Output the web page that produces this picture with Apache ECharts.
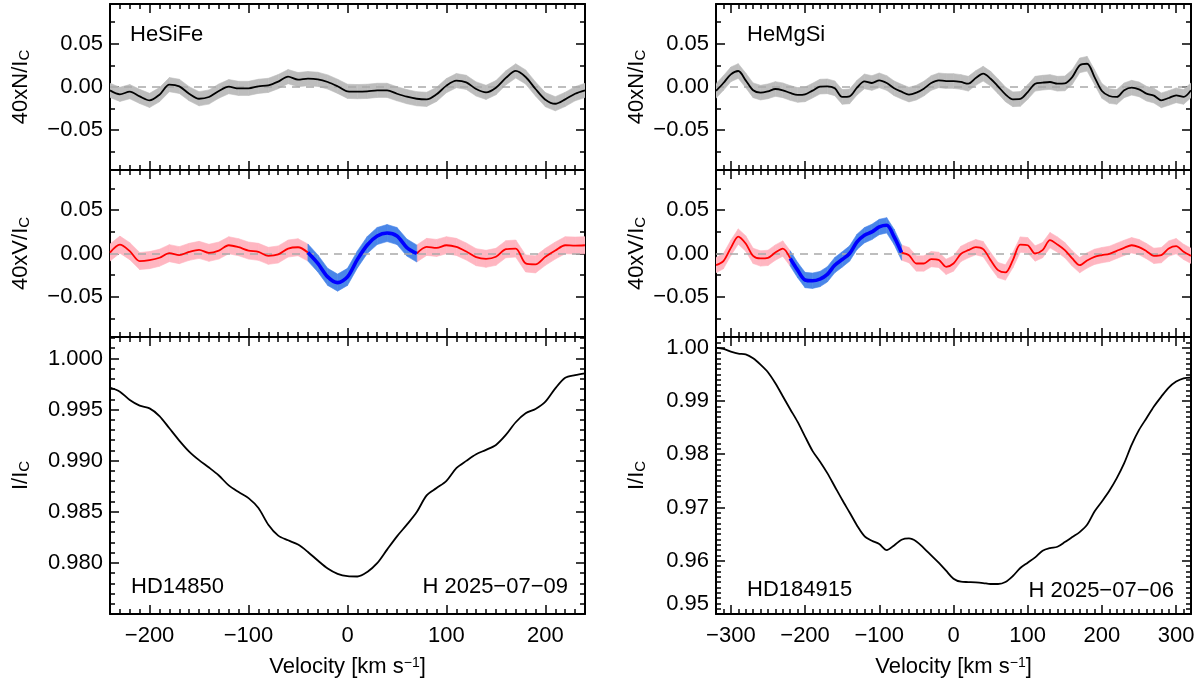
<!DOCTYPE html>
<html>
<head>
<meta charset="utf-8">
<script src="https://cdn.jsdelivr.net/npm/echarts@6/dist/echarts.min.js"></script>
<style>
html, body { margin: 0; padding: 0; background: #fff; }
#main { width: 1200px; height: 682px; }
</style>
</head>
<body>
<div id="main"></div>
<script>
var chart = echarts.init(document.getElementById('main'));

// velocity grids (km/s)
var velLeft = [-240, -230, -220, -210, -200, -190, -180, -170, -160, -150, -140, -130, -120, -110, -100, -90, -80, -70, -60, -50, -40, -30, -20, -10, 0,
    10, 20, 30, 40, 50, 60, 70, 80, 90, 100, 110, 120, 130, 140, 150, 160, 170, 180, 190, 200, 210, 220, 230, 240];
var velRight = [-320, -310, -300, -290, -280, -270, -260, -250, -240, -230, -220, -210, -200, -190, -180, -170, -160, -150, -140, -130, -120, -110, -100, -90, -80, -70, -60, -50, -40, -30, -20, -10, 0,
    10, 20, 30, 40, 50, 60, 70, 80, 90, 100, 110, 120, 130, 140, 150, 160, 170, 180, 190, 200, 210, 220, 230, 240, 250, 260, 270, 280, 290, 300, 310, 320];

// HD14850 (HeSiFe mask)
var nLeft = [-0.0039, -0.0085, -0.0054, -0.0109, -0.0155, -0.0089, 0.0027, 0.0008, -0.0078, -0.0136, -0.0116, -0.0047, 0.0004, -0.0016, -0.0016, 0.0008, 0.0019, 0.0062, 0.0120, 0.0085, 0.0097, 0.0089, 0.0058, 0.0008, -0.0050,
    -0.0054, -0.0050, -0.0039, -0.0039, -0.0078, -0.0112, -0.0136, -0.0143, -0.0085, 0.0016, 0.0074, 0.0054, -0.0023, -0.0062, -0.0008, 0.0105, 0.0186, 0.0116, -0.0023, -0.0147, -0.0194, -0.0143, -0.0078, -0.0039];
var vLeft = [0.0011, 0.0102, 0.0027, -0.0087, -0.0076, -0.0049, 0.0004, -0.0019, 0.0019, 0.0042, 0.0008, 0.0034, 0.0095, 0.0072, 0.0034, 0.0019, -0.0027, -0.0011, 0.0057, 0.0072, 0.0011, -0.0114, -0.0269, -0.0335, -0.0269,
    -0.0068, 0.0098, 0.0201, 0.0235, 0.0201, 0.0068, 0.0000, 0.0076, 0.0064, 0.0095, 0.0076, 0.0023, -0.0042, -0.0061, -0.0038, 0.0049, 0.0057, -0.0114, -0.0125, -0.0038, 0.0034, 0.0095, 0.0091, 0.0095];
var iLeft = [0.99714, 0.99675, 0.99593, 0.99538, 0.99512, 0.99437, 0.99317, 0.99197, 0.99089, 0.99005, 0.98933, 0.98855, 0.98758, 0.98693, 0.98634, 0.98537, 0.98374, 0.98267, 0.98221, 0.98179, 0.98107, 0.98023, 0.97945, 0.97893, 0.97870,
    0.97867, 0.97912, 0.97997, 0.98130, 0.98260, 0.98374, 0.98498, 0.98660, 0.98732, 0.98803, 0.98927, 0.98998, 0.99063, 0.99106, 0.99154, 0.99252, 0.99376, 0.99463, 0.99506, 0.99577, 0.99707, 0.99811, 0.99837, 0.99854];

// HD184915 (HeMgSi mask)
var nRight = [-0.0046, 0.0046, 0.0146, 0.0185, 0.0077, -0.0038, -0.0065, -0.0050, -0.0023, -0.0038, -0.0069, -0.0092, -0.0085, -0.0042, 0.0004, 0.0008, -0.0015, -0.0115, -0.0108, -0.0008, 0.0065, 0.0046, 0.0077, 0.0046, -0.0015, -0.0054, -0.0088, -0.0065, -0.0019, 0.0046, 0.0077, 0.0069, 0.0069,
    0.0058, 0.0038, 0.0104, 0.0154, 0.0096, 0.0008, -0.0085, -0.0142, -0.0138, -0.0058, 0.0038, 0.0050, 0.0058, 0.0038, 0.0042, 0.0115, 0.0250, 0.0269, 0.0115, -0.0046, -0.0104, -0.0115, -0.0038, -0.0008, -0.0027, -0.0077, -0.0100, -0.0154, -0.0127, -0.0096, -0.0115, -0.0038];
var vRight = [-0.0134, -0.0088, 0.0065, 0.0195, 0.0115, -0.0027, -0.0057, -0.0050, 0.0011, 0.0057, -0.0057, -0.0191, -0.0305, -0.0313, -0.0294, -0.0240, -0.0134, -0.0069, 0.0000, 0.0134, 0.0210, 0.0248, 0.0305, 0.0324, 0.0191, 0.0011, -0.0019, -0.0115, -0.0115, -0.0065, -0.0073, -0.0153, -0.0115,
    -0.0004, 0.0038, 0.0073, 0.0050, -0.0076, -0.0191, -0.0218, -0.0076, 0.0103, 0.0095, 0.0000, 0.0038, 0.0153, 0.0103, 0.0038, -0.0057, -0.0134, -0.0080, -0.0038, -0.0019, -0.0004, 0.0031, 0.0065, 0.0095, 0.0073, 0.0027, -0.0027, -0.0019, 0.0057, 0.0084, 0.0019, -0.0027];
var iRight = [1.00000, 0.99975, 0.99925, 0.99888, 0.99875, 0.99800, 0.99681, 0.99538, 0.99331, 0.99088, 0.98844, 0.98606, 0.98331, 0.98063, 0.97863, 0.97644, 0.97394, 0.97144, 0.96906, 0.96663, 0.96463, 0.96375, 0.96313, 0.96200, 0.96288, 0.96394, 0.96419, 0.96363, 0.96238, 0.96100, 0.95963, 0.95813, 0.95663,
    0.95606, 0.95600, 0.95594, 0.95581, 0.95563, 0.95563, 0.95600, 0.95713, 0.95863, 0.95963, 0.96063, 0.96188, 0.96238, 0.96263, 0.96350, 0.96444, 0.96538, 0.96675, 0.96925, 0.97113, 0.97313, 0.97550, 0.97831, 0.98175, 0.98456, 0.98675, 0.98894, 0.99081, 0.99250, 0.99363, 0.99425, 0.99438];

// error half-widths and the signal (blue) window
var errNLeft = 0.0082, errVLeft = 0.0098, errNRight = 0.0085, errVRight = 0.0088;
var blueLeft = [-40, 70];
var blueRight = [-220, -70];

var panelLabels = ['HeSiFe', 'HeMgSi'];
var starNames = ['HD14850', 'HD184915'];
var dateLabels = ['H 2025\u221207\u221209', 'H 2025\u221207\u221206'];

var FONT = '"Liberation Sans", Arial, sans-serif';
var MINUS = '\u2212';

function fmt(v, d) {
    var s = Math.abs(v).toFixed(d);
    return (v < -1e-9 && Number(s) !== 0 ? MINUS : '') + s;
}
function pairs(vel, vals) {
    return vel.map(function (v, i) { return [v, vals[i]]; });
}
// keep values inside (or outside) a velocity window, null elsewhere
function windowed(vel, vals, win, inside) {
    return vel.map(function (v, i) {
        var isIn = v >= win[0] && v <= win[1];
        var edge = v === win[0] || v === win[1];
        return (inside ? isIn : (!isIn || edge)) ? vals[i] : null;
    });
}

var SMOOTH = 0.3;

// error band: one quad per sample step, placed through the axes
function bandSeries(gi, vel, vals, err, color) {
    var data = vel.map(function (v, i) {
        return vals[i] == null ? [v, null, null] : [v, vals[i] - err, vals[i] + err];
    });
    return {
        type: 'custom', coordinateSystem: 'cartesian2d', xAxisIndex: 2 * gi, yAxisIndex: 2 * gi,
        data: data, encode: { x: 0, y: [1, 2] }, clip: true, silent: true, animation: false, z: 2,
        renderItem: function (params, api) {
            var i = params.dataIndex;
            if (i >= data.length - 1) return null;
            var a = data[i], b = data[i + 1];
            if (a[1] == null || b[1] == null) return null;
            var p1 = api.coord([a[0], a[2]]), p2 = api.coord([b[0], b[2]]);
            var p3 = api.coord([b[0], b[1]]), p4 = api.coord([a[0], a[1]]);
            return {
                type: 'polygon',
                shape: { points: [p1, p2, p3, p4] },
                style: { fill: color, stroke: color, lineWidth: 0.6 }
            };
        }
    };
}
function zeroSeries(gi) {
    return {
        type: 'line', xAxisIndex: 2 * gi, yAxisIndex: 2 * gi, data: [], z: 1, silent: true,
        markLine: {
            silent: true, symbol: ['none', 'none'], animation: false,
            label: { show: false },
            lineStyle: { color: '#a9a9a9', type: [8, 6], width: 1.5 },
            data: [{ yAxis: 0 }]
        }
    };
}
function lineSeries(gi, vel, vals, color, width) {
    return {
        type: 'line', xAxisIndex: 2 * gi, yAxisIndex: 2 * gi, data: pairs(vel, vals),
        smooth: SMOOTH, symbol: 'none', showSymbol: false, silent: true, animation: false,
        lineStyle: { color: color, width: width }, z: 5
    };
}

var tickStyle = { color: '#000', width: 1.5 };

function xAxesFor(gi, ext, withLabels) {
    var common = {
        type: 'value', gridIndex: gi, min: ext[0], max: ext[1],
        axisLine: { show: true, onZero: false, lineStyle: { color: '#000', width: 2 } },
        axisTick: { show: true, inside: true, length: 9, lineStyle: tickStyle },
        minorTick: { show: true, splitNumber: 10, length: 5, lineStyle: tickStyle },
        splitLine: { show: false }
    };
    var bottom = Object.assign({}, common, {
        position: 'bottom',
        axisLabel: withLabels ? {
            show: true, margin: 11, fontSize: 22, fontFamily: FONT, color: '#000',
            showMinLabel: false, showMaxLabel: false,
            formatter: function (v) { return fmt(v, 0); }
        } : { show: false }
    });
    if (withLabels) {
        bottom.name = 'Velocity [km s{sup|' + MINUS + '1}]';
        bottom.nameLocation = 'middle';
        bottom.nameGap = 42;
        bottom.nameTextStyle = {
            fontSize: 22, fontFamily: FONT, color: '#000', lineHeight: 22,
            rich: { sup: { fontSize: 14, lineHeight: 12, verticalAlign: 'top', fontFamily: FONT, color: '#000' } }
        };
    }
    var top = Object.assign({}, common, { position: 'top', axisLabel: { show: false } });
    return [bottom, top];
}

function yAxesFor(gi, ext, decimals, minor, name, nameGap, showMin) {
    var common = {
        type: 'value', gridIndex: gi, min: ext[0], max: ext[1], splitNumber: 4,
        axisLine: { show: true, onZero: false, lineStyle: { color: '#000', width: 2 } },
        axisTick: { show: true, inside: true, length: 9, lineStyle: tickStyle },
        minorTick: { show: true, splitNumber: minor, length: 5, lineStyle: tickStyle },
        splitLine: { show: false }
    };
    var left = Object.assign({}, common, {
        position: 'left',
        axisLabel: {
            show: true, margin: 7, fontSize: 22, fontFamily: FONT, color: '#000',
            showMinLabel: showMin, showMaxLabel: false,
            formatter: function (v) {
                if (showMin && Math.abs(v - ext[0]) < 1e-9) return '{lo|' + fmt(v, decimals) + '}';
                return fmt(v, decimals);
            },
            rich: { lo: { fontSize: 22, fontFamily: FONT, color: '#000', padding: [0, 0, 20, 0] } }
        },
        name: name, nameLocation: 'middle', nameGap: nameGap,
        nameTextStyle: {
            fontSize: 22, fontFamily: FONT, color: '#000', lineHeight: 22,
            rich: { sub: { fontSize: 15, lineHeight: 6, verticalAlign: 'bottom', fontFamily: FONT, color: '#000' } }
        }
    });
    var right = Object.assign({}, common, { position: 'right', axisLabel: { show: false } });
    return [left, right];
}

var extXL = [-240, 240], extXR = [-320, 320];
var extPol = [-0.096, 0.096];
var extIL = [0.975, 1.0021], extIR = [0.95, 1.0020];

var colX = [110, 716];
var plotW = 475;
var rows = [{ top: 4, h: 166 }, { top: 170, h: 167 }, { top: 337, h: 277 }];

var grids = [];
[0, 1].forEach(function (c) {
    rows.forEach(function (r) {
        grids.push({ left: colX[c], top: r.top, width: plotW, height: r.h, outerBoundsMode: 'none', containLabel: false });
    });
});

var nameN = '40xN/I{sub|C}', nameV = '40xV/I{sub|C}', nameI = 'I/I{sub|C}';
var xAxes = [].concat(
    xAxesFor(0, extXL, false), xAxesFor(1, extXL, false), xAxesFor(2, extXL, true),
    xAxesFor(3, extXR, false), xAxesFor(4, extXR, false), xAxesFor(5, extXR, true)
);
var yAxes = [].concat(
    yAxesFor(0, extPol, 2, 2, nameN, 78, false),
    yAxesFor(1, extPol, 2, 2, nameV, 78, false),
    yAxesFor(2, extIL, 3, 5, nameI, 78, false),
    yAxesFor(3, extPol, 2, 2, nameN, 68, false),
    yAxesFor(4, extPol, 2, 2, nameV, 68, false),
    yAxesFor(5, extIR, 2, 10, nameI, 68, true)
);

var GRAY = '#bdbdbd', PINK = '#ffb6c1', BLUEBAND = '#4a86e8';
var series = [];
function polPanels(gN, gV, vel, n, v, eN, eV, win) {
    series.push(zeroSeries(gN));
    series.push(bandSeries(gN, vel, n, eN, GRAY));
    series.push(lineSeries(gN, vel, n, '#000', 1.8));
    var red = windowed(vel, v, win, false);
    var blue = windowed(vel, v, win, true);
    series.push(zeroSeries(gV));
    series.push(bandSeries(gV, vel, red, eV, PINK));
    series.push(bandSeries(gV, vel, blue, eV, BLUEBAND));
    series.push(lineSeries(gV, vel, red, '#ff0000', 1.8));
    series.push(lineSeries(gV, vel, blue, '#0000ff', 3.6));
}
polPanels(0, 1, velLeft, nLeft, vLeft, errNLeft, errVLeft, blueLeft);
polPanels(3, 4, velRight, nRight, vRight, errNRight, errVRight, blueRight);
series.push(lineSeries(2, velLeft, iLeft, '#000', 1.8));
series.push(lineSeries(5, velRight, iRight, '#000', 1.8));

function txt(x, y, s, align) {
    return {
        type: 'text', x: x, y: y, silent: true, z: 100,
        style: { text: s, fontSize: 22, fontFamily: FONT, fill: '#000', align: align, verticalAlign: 'middle' }
    };
}

option = {
    backgroundColor: '#fff',
    animation: false,
    grid: grids,
    xAxis: xAxes,
    yAxis: yAxes,
    series: series,
    graphic: [
        txt(130, 35, panelLabels[0], 'left'),
        txt(747, 35, panelLabels[1], 'left'),
        txt(131, 587, starNames[0], 'left'),
        txt(747, 590, starNames[1], 'left'),
        txt(568, 587, dateLabels[0], 'right'),
        txt(1174, 591, dateLabels[1], 'right')
    ]
};

chart.setOption(option);
</script>
</body>
</html>
